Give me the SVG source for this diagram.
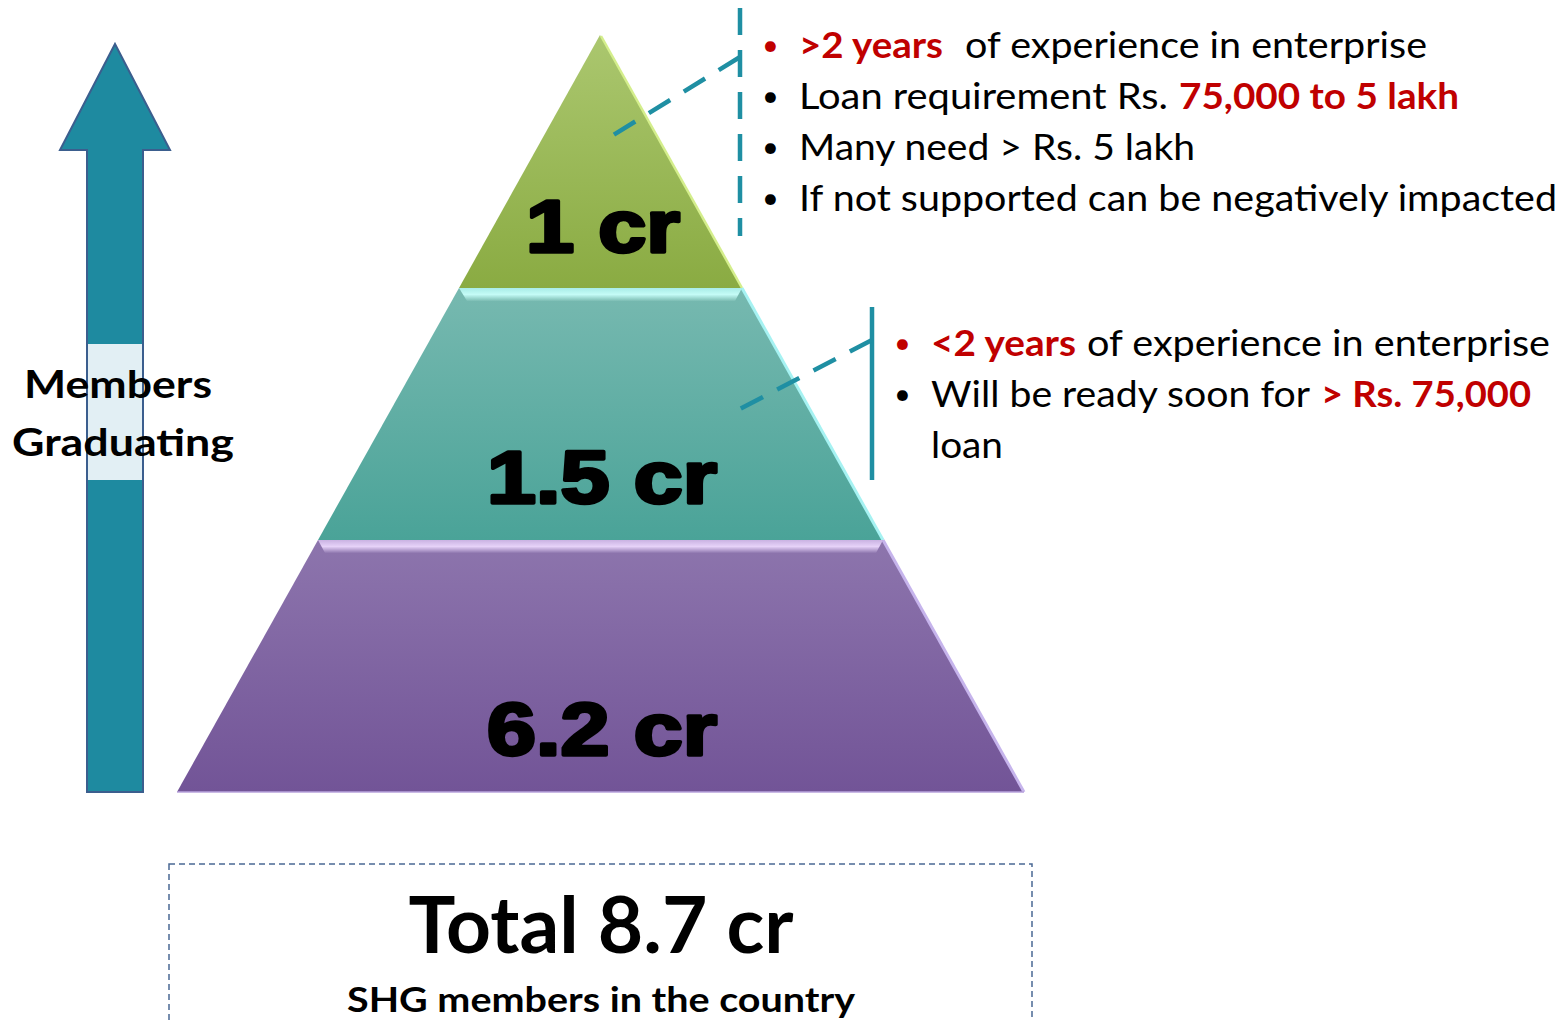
<svg xmlns="http://www.w3.org/2000/svg" width="1564" height="1021" viewBox="0 0 1564 1021">
<defs>
<linearGradient id="gGreen" x1="0" y1="35" x2="0" y2="288" gradientUnits="userSpaceOnUse"><stop offset="0" stop-color="#abc76f"/><stop offset="1" stop-color="#8aab42"/></linearGradient>
<linearGradient id="gTeal" x1="0" y1="288" x2="0" y2="540" gradientUnits="userSpaceOnUse"><stop offset="0" stop-color="#77b9b0"/><stop offset="1" stop-color="#4aa398"/></linearGradient>
<linearGradient id="gPurple" x1="0" y1="540" x2="0" y2="792" gradientUnits="userSpaceOnUse"><stop offset="0" stop-color="#8d75ad"/><stop offset="1" stop-color="#725497"/></linearGradient>
<linearGradient id="bTeal" x1="0" y1="288" x2="0" y2="301" gradientUnits="userSpaceOnUse"><stop offset="0" stop-color="#a8ece6"/><stop offset="0.5" stop-color="#c4fbf6"/><stop offset="1" stop-color="#7cbdb3"/></linearGradient>
<linearGradient id="bPurple" x1="0" y1="540" x2="0" y2="553" gradientUnits="userSpaceOnUse"><stop offset="0" stop-color="#c9b2e2"/><stop offset="0.5" stop-color="#e6d2f8"/><stop offset="1" stop-color="#8f77af"/></linearGradient>
<style>
.num{font-family:"Liberation Sans",Arial,sans-serif;font-weight:900;fill:#000;stroke:#000;stroke-width:3.5;stroke-linejoin:round}
.cal{font-family:Lato,"Open Sans",sans-serif;fill:#000}
.b{font-weight:bold}
.red{fill:#c00000}
.bul{font-size:29px}
.lbl{font-family:Lato,"Open Sans",sans-serif;font-weight:bold;fill:#000;font-size:38px}
.dash{fill:none;stroke:#1f8fa3;stroke-width:4.5}
</style>
</defs>

<g id="arrow">
<polygon points="115,44 170,150 143,150 143,792 87,792 87,150 60,150" fill="#1e8aa0" stroke="#3b5e8e" stroke-width="2"/>
<rect x="88" y="344" width="54" height="136" fill="#e2eff4"/>
<text class="lbl" x="118" y="398" text-anchor="middle" textLength="188" lengthAdjust="spacingAndGlyphs">Members</text>
<text class="lbl" x="123" y="456" text-anchor="middle" textLength="222" lengthAdjust="spacingAndGlyphs">Graduating</text>
</g>

<g id="tier-top">
<polygon points="600,35 742,288 459,288" fill="url(#gGreen)"/>
<line x1="601" y1="36" x2="742" y2="288" stroke="#d4ee8c" stroke-width="2.5"/>
<text class="num" x="603" y="252" text-anchor="middle" font-size="74" textLength="154" lengthAdjust="spacingAndGlyphs">1 cr</text>
</g>

<g id="tier-mid">
<polygon points="459,288 742,288 883,540 318,540" fill="url(#gTeal)"/>
<polygon points="459,288 742,288 735,301 467,301" fill="url(#bTeal)"/>
<line x1="742" y1="288" x2="883" y2="540" stroke="#a6f2f2" stroke-width="3"/>
<text class="num" x="602" y="503" text-anchor="middle" font-size="74" textLength="230" lengthAdjust="spacingAndGlyphs">1.5 cr</text>
</g>

<g id="tier-bottom">
<polygon points="318,540 883,540 1024,792 177,792" fill="url(#gPurple)"/>
<polygon points="318,540 883,540 876,553 325,553" fill="url(#bPurple)"/>
<line x1="883" y1="540" x2="1024" y2="792" stroke="#c6b4ec" stroke-width="3"/>
<line x1="177" y1="792" x2="1024" y2="792" stroke="#b9a3dc" stroke-width="1.5"/>
<text class="num" x="602" y="755" text-anchor="middle" font-size="74" textLength="230" lengthAdjust="spacingAndGlyphs">6.2 cr</text>
</g>

<g id="connectors">
<line class="dash" x1="740" y1="8" x2="740" y2="236" stroke-dasharray="27 15"/>
<line class="dash" x1="740" y1="57" x2="610" y2="137" stroke-dasharray="25 16"/>
<line x1="872" y1="307" x2="872" y2="480" stroke="#1f8fa3" stroke-width="4.5"/>
<line class="dash" x1="872" y1="340" x2="738" y2="410" stroke-dasharray="25 16"/>
</g>

<g id="callout-top" class="cal" font-size="36">
<text x="762" y="55" class="red bul">•</text>
<text x="799" y="58" class="red b" textLength="144" lengthAdjust="spacingAndGlyphs">&gt;2 years</text>
<text x="965" y="58" textLength="462" lengthAdjust="spacingAndGlyphs">of experience in enterprise</text>
<text x="762" y="106" class="bul">•</text>
<text x="799" y="109" textLength="369" lengthAdjust="spacingAndGlyphs">Loan requirement Rs.</text>
<text x="1179" y="109" class="red b" textLength="280" lengthAdjust="spacingAndGlyphs">75,000 to 5 lakh</text>
<text x="762" y="157" class="bul">•</text>
<text x="799" y="160" textLength="396" lengthAdjust="spacingAndGlyphs">Many need &gt; Rs. 5 lakh</text>
<text x="762" y="208" class="bul">•</text>
<text x="799" y="211" textLength="758" lengthAdjust="spacingAndGlyphs">If not supported can be negatively impacted</text>
</g>

<g id="callout-mid" class="cal" font-size="36">
<text x="894" y="353" class="red bul">•</text>
<text x="931" y="356" class="red b" textLength="145" lengthAdjust="spacingAndGlyphs">&lt;2 years</text>
<text x="1087" y="356" textLength="463" lengthAdjust="spacingAndGlyphs">of experience in enterprise</text>
<text x="894" y="404" class="bul">•</text>
<text x="931" y="407" textLength="379" lengthAdjust="spacingAndGlyphs">Will be ready soon for</text>
<text x="1321" y="407" class="red b" textLength="210" lengthAdjust="spacingAndGlyphs">&gt; Rs. 75,000</text>
<text x="931" y="458" textLength="72" lengthAdjust="spacingAndGlyphs">loan</text>
</g>

<g id="total-box">
<rect x="169" y="864" width="863" height="200" fill="none" stroke="#4a6894" stroke-width="1.5" stroke-dasharray="6 4"/>
<text x="601" y="953" text-anchor="middle" font-family="Lato,'Open Sans',sans-serif" font-weight="bold" font-size="78" textLength="385" lengthAdjust="spacingAndGlyphs">Total 8.7 cr</text>
<text x="601" y="1012" text-anchor="middle" font-family="Lato,'Open Sans',sans-serif" font-weight="bold" font-size="35" textLength="508" lengthAdjust="spacingAndGlyphs">SHG members in the country</text>
</g>
</svg>
